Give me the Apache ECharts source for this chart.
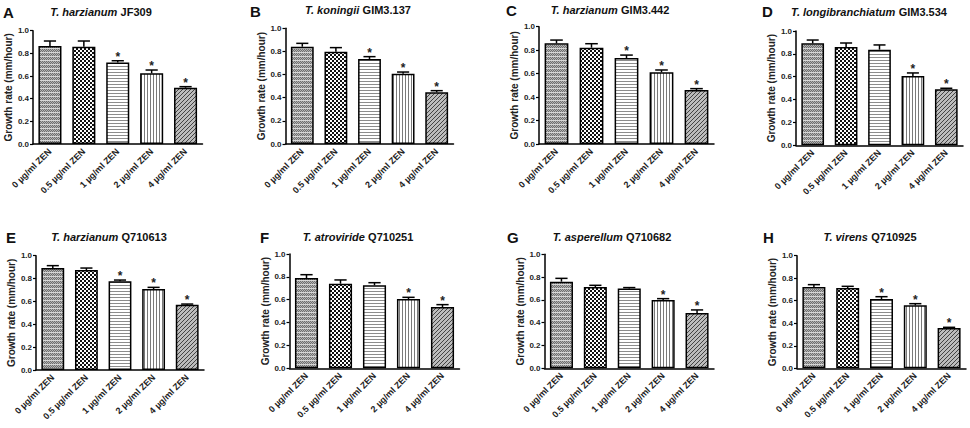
<!DOCTYPE html>
<html>
<head>
<meta charset="utf-8">
<script src="https://cdn.jsdelivr.net/npm/echarts@6/dist/echarts.min.js"></script>
<style>
    html, body { margin: 0; padding: 0; background: #fff; }
    #growthChart { width: 970px; height: 428px; }
</style>
</head>
<body>
<div id="growthChart"></div>
<script>
// categories and tick values
var categories = ['0 µg/ml ZEN', '0.5 µg/ml ZEN', '1 µg/ml ZEN', '2 µg/ml ZEN', '4 µg/ml ZEN'];
var yMin = 0, yMax = 1.0, yStep = 0.2;

// panel titles
var panelLetters = ['A', 'B', 'C', 'D', 'E', 'F', 'G', 'H'];
var speciesNames = ['T. harzianum', 'T. koningii', 'T. harzianum', 'T. longibranchiatum',
    'T. harzianum', 'T. atroviride', 'T. asperellum', 'T. virens'];
var strainNames = ['JF309', 'GIM3.137', 'GIM3.442', 'GIM3.534',
    'Q710613', 'Q710251', 'Q710682', 'Q710925'];

// growth rate (mm/hour), error (SEM) and significance flags
var rateA = [0.865, 0.859, 0.720, 0.624, 0.497];
var errA  = [0.044, 0.050, 0.015, 0.029, 0.009];
var starA = [0, 0, 1, 1, 1];
var rateB = [0.841, 0.798, 0.735, 0.608, 0.447];
var errB  = [0.029, 0.035, 0.020, 0.014, 0.014];
var starB = [0, 0, 1, 1, 1];
var rateC = [0.858, 0.821, 0.733, 0.611, 0.460];
var errC  = [0.028, 0.034, 0.025, 0.020, 0.012];
var starC = [0, 0, 1, 1, 1];
var rateD = [0.892, 0.860, 0.837, 0.606, 0.490];
var errD  = [0.029, 0.035, 0.041, 0.027, 0.009];
var starD = [0, 0, 0, 1, 1];
var rateE = [0.892, 0.875, 0.776, 0.708, 0.571];
var errE  = [0.021, 0.017, 0.011, 0.015, 0.006];
var starE = [0, 0, 1, 1, 1];
var rateF = [0.790, 0.740, 0.726, 0.606, 0.536];
var errF  = [0.029, 0.033, 0.023, 0.015, 0.021];
var starF = [0, 0, 0, 1, 1];
var rateG = [0.760, 0.713, 0.699, 0.600, 0.485];
var errG  = [0.029, 0.015, 0.009, 0.011, 0.027];
var starG = [0, 0, 0, 1, 1];
var rateH = [0.722, 0.713, 0.615, 0.559, 0.358];
var errH  = [0.021, 0.015, 0.021, 0.015, 0.006];
var starH = [0, 0, 1, 1, 1];

var rates = [rateA, rateB, rateC, rateD, rateE, rateF, rateG, rateH];
var errors = [errA, errB, errC, errD, errE, errF, errG, errH];
var stars = [starA, starB, starC, starD, starE, starF, starG, starH];

var growthMain = (function() {
    var FONT = '"Liberation Sans", Arial, sans-serif';

    // plot boxes [left, top, width, height]
    var boxes = [
        [33, 30.7, 169.5, 113.3], [285.5, 28.3, 168, 115.7], [539, 26.7, 175, 117.3], [796, 31, 167, 114.3],
        [36, 255.7, 168, 114.3], [289.5, 254, 170, 114.3], [544.5, 254.3, 169.5, 114], [797, 255.7, 169, 112.6]
    ];
    var letterPos = [[3, 12], [250, 11], [506, 10], [762, 11], [6, 237], [260, 237], [507, 237], [763, 237]];
    var titlePos = [[101, 12], [358, 10], [610, 10], [869, 12], [109, 237], [358, 237], [612, 237], [870, 237]];

    function makeTile(w, h, draw) {
        var c = document.createElement('canvas');
        c.width = w;
        c.height = h;
        var ctx = c.getContext('2d');
        draw(ctx);
        return { image: c, repeat: 'repeat', imageWidth: w, imageHeight: h };
    }

    var patterns = [
        // fine grey grid with light bands
        makeTile(4, 4, function(ctx) {
            ctx.fillStyle = '#b4b4b4'; ctx.fillRect(0, 0, 4, 4);
            ctx.fillStyle = '#6e6e6e';
            ctx.fillRect(0, 1, 1, 1); ctx.fillRect(2, 1, 1, 1);
            ctx.fillRect(1, 2, 1, 1); ctx.fillRect(3, 2, 1, 1);
            ctx.fillRect(0, 3, 1, 1); ctx.fillRect(2, 3, 1, 1);
            ctx.fillStyle = '#d6d6d6'; ctx.fillRect(0, 0, 4, 1);
        }),
        // checkerboard
        makeTile(4, 4, function(ctx) {
            ctx.fillStyle = '#fff'; ctx.fillRect(0, 0, 4, 4);
            ctx.fillStyle = '#111'; ctx.fillRect(0, 0, 2, 2); ctx.fillRect(2, 2, 2, 2);
        }),
        // horizontal lines
        makeTile(4, 3, function(ctx) {
            ctx.fillStyle = '#fff'; ctx.fillRect(0, 0, 4, 3);
            ctx.fillStyle = '#8c8c8c'; ctx.fillRect(0, 0, 4, 1);
        }),
        // vertical lines
        makeTile(3, 4, function(ctx) {
            ctx.fillStyle = '#fff'; ctx.fillRect(0, 0, 3, 4);
            ctx.fillStyle = '#7a7a7a'; ctx.fillRect(0, 0, 1, 4);
        }),
        // diagonal lines
        makeTile(4, 4, function(ctx) {
            ctx.fillStyle = '#bcbcbc'; ctx.fillRect(0, 0, 4, 4);
            ctx.fillStyle = '#444';
            ctx.fillRect(3, 0, 1, 1); ctx.fillRect(2, 1, 1, 1); ctx.fillRect(1, 2, 1, 1); ctx.fillRect(0, 3, 1, 1);
        })
    ];

    function renderErrorBar(params, api) {
        var idx = api.value(0);
        var v = api.value(1);
        var e = api.value(2);
        var base = api.coord([idx, v]);
        var top = api.coord([idx, v + e]);
        var half = api.size([1, 0])[0] * 0.18;
        var lineStyle = { stroke: '#000', lineWidth: 1.5 };
        var children = [
            { type: 'line', shape: { x1: base[0], y1: base[1], x2: top[0], y2: top[1] }, style: lineStyle },
            { type: 'line', shape: { x1: top[0] - half, y1: top[1], x2: top[0] + half, y2: top[1] }, style: lineStyle }
        ];
        if (api.value(3)) {
            children.push({
                type: 'text', x: top[0], y: top[1] + 2,
                style: { text: '*', textAlign: 'center', textVerticalAlign: 'bottom', font: 'bold 12px ' + FONT, fill: '#222' }
            });
        }
        return { type: 'group', children: children };
    }

    function buildOption() {
        var grid = [], xAxis = [], yAxis = [], series = [], graphic = [];
        for (var i = 0; i < rates.length; i++) {
            var b = boxes[i];
            grid.push({ left: b[0], top: b[1], width: b[2], height: b[3], outerBoundsMode: 'none', containLabel: false });
            xAxis.push({
                gridIndex: i, type: 'category', data: categories,
                axisLine: { lineStyle: { color: '#000', width: 1.5 } },
                axisTick: { alignWithLabel: true, length: 3, lineStyle: { color: '#000', width: 1.2 } },
                axisLabel: { rotate: 45, interval: 0, fontSize: 9, fontWeight: 'bold', color: '#222', margin: 6, fontFamily: FONT }
            });
            yAxis.push({
                gridIndex: i, type: 'value', min: yMin, max: yMax, interval: yStep,
                name: 'Growth rate (mm/hour)', nameLocation: 'middle', nameGap: 19,
                nameTextStyle: { fontSize: 10, fontWeight: 'bold', color: '#222', fontFamily: FONT },
                axisLine: { show: true, lineStyle: { color: '#000', width: 1.5 } },
                axisTick: { show: true, length: 3, lineStyle: { color: '#000', width: 1.2 } },
                axisLabel: { fontSize: 8, fontWeight: 'bold', color: '#222', margin: 4, fontFamily: FONT,
                    formatter: function(v) { return v.toFixed(1); } },
                splitLine: { show: false }
            });
            var barData = [], errData = [];
            for (var j = 0; j < categories.length; j++) {
                barData.push({ value: rates[i][j], itemStyle: { color: patterns[j] } });
                errData.push([j, rates[i][j], errors[i][j], stars[i][j]]);
            }
            series.push({
                type: 'bar', xAxisIndex: i, yAxisIndex: i, data: barData, barWidth: '68%',
                itemStyle: { borderColor: '#000', borderWidth: 1.5 }, silent: true
            });
            series.push({
                type: 'custom', xAxisIndex: i, yAxisIndex: i, data: errData,
                renderItem: renderErrorBar, encode: { x: 0, y: 1 }, silent: true, z: 5
            });
            graphic.push({
                type: 'text', x: letterPos[i][0], y: letterPos[i][1],
                style: { text: panelLetters[i], font: 'bold 15px ' + FONT, fill: '#111', textVerticalAlign: 'middle' }
            });
            graphic.push({
                type: 'text', x: titlePos[i][0], y: titlePos[i][1],
                style: {
                    text: '{s|' + speciesNames[i] + '} {n|' + strainNames[i] + '}',
                    textAlign: 'center', textVerticalAlign: 'middle', fill: '#111',
                    rich: {
                        s: { fontStyle: 'italic', fontWeight: 'bold', fontSize: 11, fontFamily: FONT, fill: '#111' },
                        n: { fontWeight: 'bold', fontSize: 11, fontFamily: FONT, fill: '#111' }
                    }
                }
            });
        }
        return {
            animation: false,
            backgroundColor: '#fff',
            grid: grid, xAxis: xAxis, yAxis: yAxis, series: series, graphic: graphic
        };
    }

    var chartEle = document.getElementById('growthChart');
    var myChart = echarts.init(chartEle, null, { renderer: 'svg' });
    myChart.setOption(buildOption(), true);

    return {
        chart: myChart
    };
})();
</script>
</body>
</html>
